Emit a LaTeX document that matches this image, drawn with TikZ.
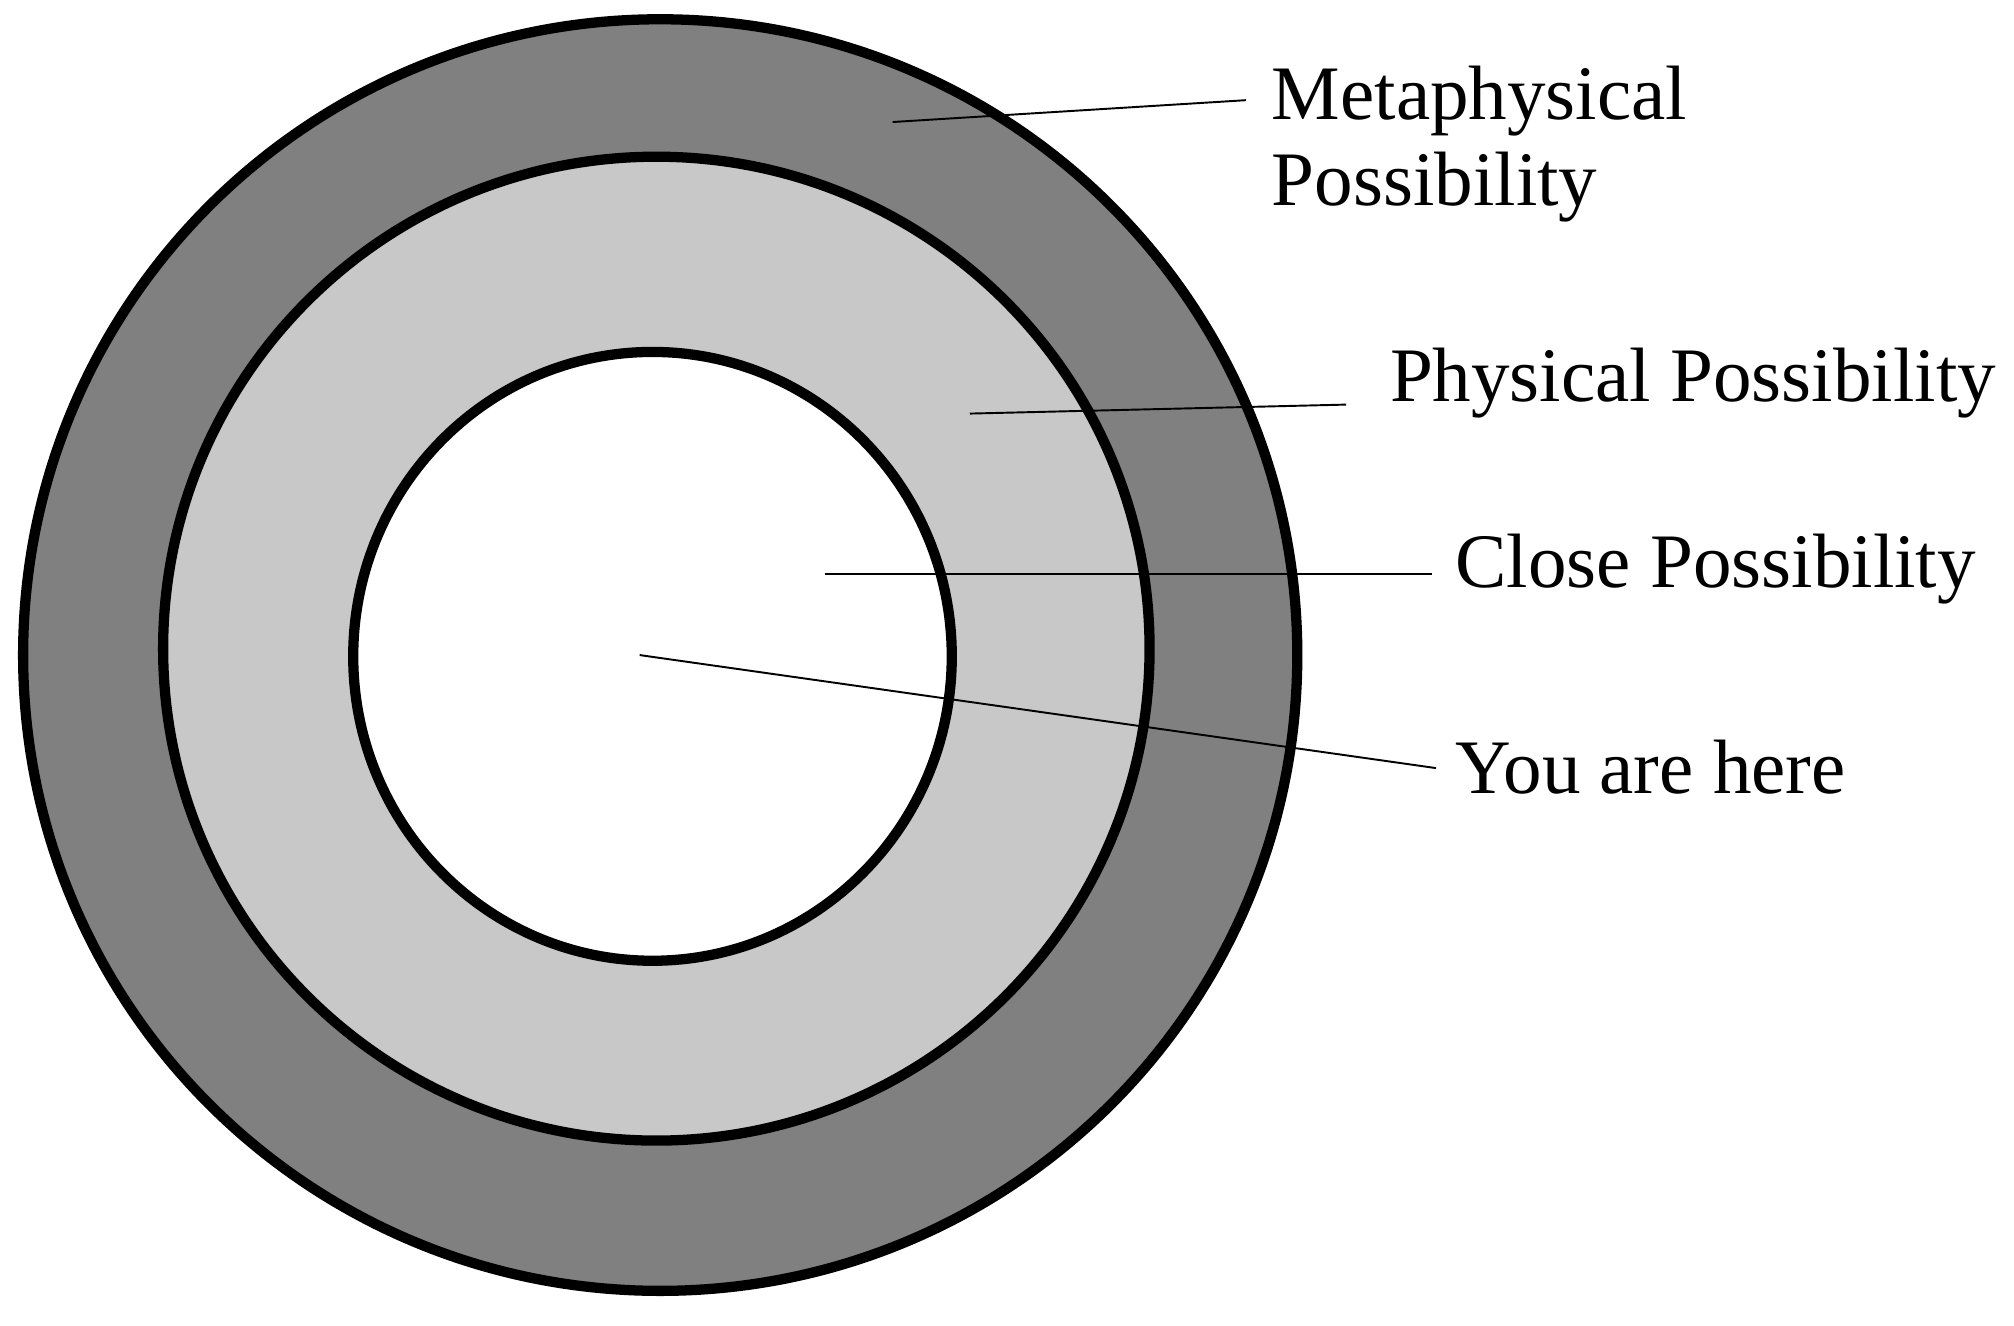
\documentclass[tikz,border=0pt]{standalone}
\usepackage{fontspec}
\setmainfont{Liberation Serif}
\begin{document}
\begin{tikzpicture}[x=1pt,y=-1pt,
  ring/.style={draw=black,line width=8pt},
  lead/.style={draw=black,line width=1.5pt},
  lbl/.style={anchor=west,font=\fontsize{60}{67}\selectfont,inner sep=0pt,align=left}]
\useasboundingbox (0,0) rectangle (1568,1032);
\path[ring,fill={rgb,255:red,128;green,128;blue,128}] (514,510) ellipse [x radius=496,y radius=495];
\path[ring,fill={rgb,255:red,200;green,200;blue,200}] (511,505) ellipse [x radius=384,y radius=383];
\path[ring,fill=white] (508,511) ellipse [x radius=233,y radius=237];
\node[lbl] (m) at (990,112) {Metaphysical\\Possibility};
\node[lbl] (p) at (1082,298) {Physical Possibility};
\node[lbl] (c) at (1133,443) {Close Possibility};
\node[lbl] (y) at (1133,597) {You are here};
\coordinate (m0) at (695,95); \coordinate (m1) at (970,78);
\coordinate (p0) at (755,322); \coordinate (p1) at (1048,315);
\coordinate (c0) at (642,447); \coordinate (c1) at (1115,447);
\coordinate (y0) at (498,510); \coordinate (y1) at (1118,598);
\draw[lead] (m0) -- (m1);
\draw[lead] (p0) -- (p1);
\draw[lead] (c0) -- (c1);
\draw[lead] (y0) -- (y1);
\end{tikzpicture}
\end{document}
